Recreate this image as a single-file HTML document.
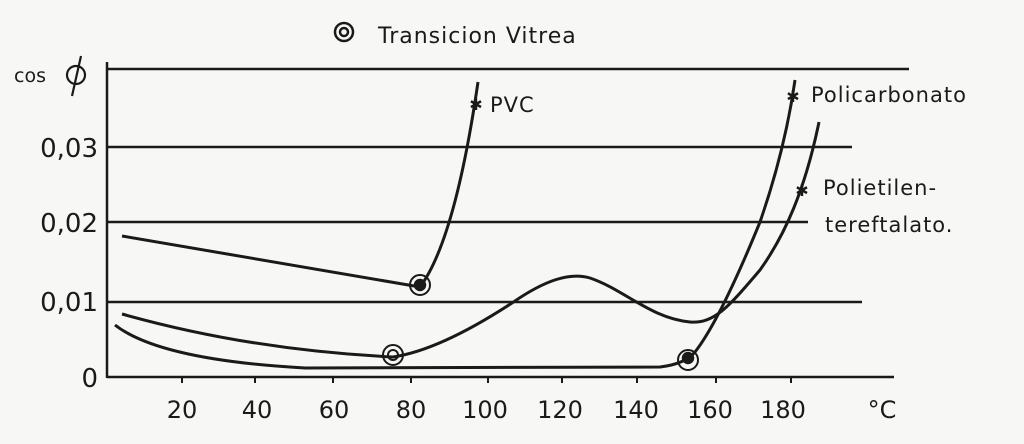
<!DOCTYPE html>
<html><head><style>
body{margin:0;background:#f7f7f5;}
svg{display:block}
text{font-family:"DejaVu Sans","Liberation Sans",sans-serif;fill:#1a1a1a}
</style></head><body>
<svg width="1024" height="444" viewBox="0 0 1024 444" xmlns="http://www.w3.org/2000/svg">
<rect width="1024" height="444" fill="#f7f7f5"/>
<g stroke="#1a1a1a" stroke-width="2.5" fill="none">
<line x1="107" y1="62" x2="107" y2="378"/>
<line x1="107" y1="69" x2="909" y2="69"/>
<line x1="107" y1="147" x2="852" y2="147"/>
<line x1="107" y1="222" x2="808" y2="222"/>
<line x1="107" y1="302" x2="862" y2="302"/>
<line x1="107" y1="377" x2="894" y2="377"/>
<g stroke-width="2">
<line x1="182" y1="377" x2="182" y2="383"/><line x1="255" y1="377" x2="255" y2="383"/>
<line x1="333" y1="377" x2="333" y2="383"/><line x1="411" y1="377" x2="411" y2="383"/>
<line x1="488" y1="377" x2="488" y2="383"/><line x1="562" y1="377" x2="562" y2="383"/>
<line x1="637" y1="377" x2="637" y2="383"/><line x1="716" y1="377" x2="716" y2="383"/>
<line x1="791" y1="377" x2="791" y2="383"/>
</g>
<path d="M122,236 L420,287 Q455,240 478,82" stroke-width="3"/>
<path d="M122,314 Q250,350 393,357 Q440,350 512,303 C545,280 570,272 590,278 C625,290 650,318 690,322 C715,324 730,305 760,270 C785,235 805,190 819,122" stroke-width="3"/>
<path d="M115,325 Q160,360 305,368 L660,367 Q685,364 695,352 Q720,320 760,222 Q785,150 795,80" stroke-width="3"/>
<circle cx="420" cy="285" r="10" stroke-width="2"/><circle cx="420" cy="285" r="5" fill="#1a1a1a"/>
<circle cx="393" cy="355" r="10" stroke-width="2"/><circle cx="393" cy="355" r="5" stroke-width="2"/>
<circle cx="688" cy="360" r="10" stroke-width="2"/><circle cx="688" cy="358" r="5" fill="#1a1a1a"/>
<circle cx="344" cy="32" r="9" stroke-width="2.5"/><circle cx="344" cy="32" r="4" stroke-width="2.5"/>
<circle cx="76" cy="75" r="9" stroke-width="2.2"/><line x1="81" y1="56" x2="72" y2="96" stroke-width="2.2"/>
</g>
<g font-size="16" fill="#1a1a1a" text-anchor="middle">
<text x="476" y="110">✱</text><text x="793" y="102">✱</text><text x="802" y="196">✱</text>
</g>
<text x="378" y="43" font-size="22" letter-spacing="1">Transicion Vitrea</text>
<text x="14" y="82" font-size="19">cos</text>
<g font-size="26" text-anchor="end">
<text x="98" y="157">0,03</text><text x="98" y="232">0,02</text><text x="98" y="311">0,01</text><text x="98" y="387">0</text>
</g>
<g font-size="24" text-anchor="middle">
<text x="182" y="418">20</text><text x="257" y="418">40</text><text x="334" y="418">60</text>
<text x="411" y="418">80</text><text x="485" y="418">100</text><text x="560" y="418">120</text>
<text x="636" y="418">140</text><text x="710" y="418">160</text><text x="783" y="418">180</text>
<text x="882" y="418">°C</text>
</g>
<g font-size="21" letter-spacing="1">
<text x="490" y="112">PVC</text>
<text x="811" y="102">Policarbonato</text>
<text x="823" y="195">Polietilen-</text>
<text x="825" y="232">tereftalato.</text>
</g>
</svg>
</body></html>
